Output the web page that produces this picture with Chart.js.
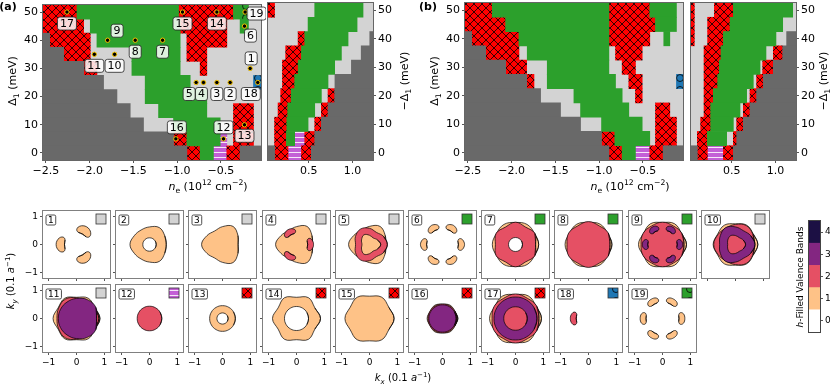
<!DOCTYPE html>
<html>
<head>
<meta charset="utf-8">
<script src="https://cdn.jsdelivr.net/npm/chart.js@4.4.1/dist/chart.umd.min.js"></script>
<style>
  html, body { margin: 0; padding: 0; background: #fff; }
  body { position: relative; width: 830px; height: 385px; overflow: hidden; font-family: 'DejaVu Sans', sans-serif; }
  canvas { position: absolute; }
  .txt { position: absolute; white-space: nowrap; color: #000; line-height: 1; transform: translate(-50%, -50%); }
  .rot { transform: translate(-50%, -50%) rotate(-90deg); }
  sub, sup { font-size: 70%; line-height: 0; }
</style>
</head>
<body>
<script>
// ---------------- Datos ----------------
// filas de Δ1 (meV), de arriba abajo
var deltaRows = [50, 45, 40, 35, 30, 25, 20, 15, 10, 5, 0];
var deltaTicks = [0, 10, 20, 30, 40, 50];
var neTicksLeft = [-2.5, -2.0, -1.5, -1.0, -0.5];
var neTicksRight = [0.5, 1.0];
var kTicks = [-1, 0, 1];
var bandTicks = [0, 1, 2, 3, 4];

// segmentos [n0, n1, fase] por fila; lo que falta es gris claro
// D gris oscuro, G verde, R rojo rayado, P morado rayado, B azul, C verde con círculo
var phaseA = [
  [[-2.534, -2.145, 'R'], [-2.145, -0.984, 'G'], [-0.984, -0.355, 'R'], [-0.355, -0.260, 'G'], [-0.260, -0.184, 'C']],
  [[-2.534, -2.069, 'R'], [-1.993, -0.965, 'G'], [-0.965, -0.431, 'R'], [-0.279, -0.184, 'G']],
  [[-2.534, -2.458, 'D'], [-2.458, -1.993, 'R'], [-1.917, -0.965, 'G'], [-0.888, -0.431, 'R']],
  [[-2.534, -2.298, 'D'], [-2.298, -1.993, 'R'], [-1.517, -0.965, 'G'], [-0.888, -0.660, 'R']],
  [[-2.534, -2.069, 'D'], [-2.069, -1.917, 'R'], [-1.517, -0.965, 'G'], [-0.736, -0.660, 'R']],
  [[-2.534, -1.841, 'D'], [-1.365, -0.850, 'G'], [-0.126, -0.039, 'B']],
  [[-2.534, -1.688, 'D'], [-1.365, -0.660, 'G']],
  [[-2.534, -1.536, 'D'], [-1.212, -0.660, 'G'], [-0.355, -0.126, 'R']],
  [[-2.534, -1.384, 'D'], [-1.041, -0.507, 'G'], [-0.355, -0.126, 'R']],
  [[-2.534, -1.041, 'D'], [-1.041, -0.888, 'R'], [-0.888, -0.507, 'G'], [-0.507, -0.431, 'P'], [-0.355, -0.126, 'R']],
  [[-2.534, -0.888, 'D'], [-0.888, -0.736, 'R'], [-0.736, -0.584, 'G'], [-0.584, -0.431, 'P'], [-0.431, -0.279, 'R'], [-0.279, -0.039, 'D']]
];

var phaseARight = [
  [[0.035, 0.110, 'R'], [0.569, 1.121, 'G']],
  [[0.493, 1.053, 'G']],
  [[0.379, 0.455, 'R'], [0.455, 0.950, 'G'], [1.198, 1.235, 'D']],
  [[0.237, 0.417, 'R'], [0.417, 0.874, 'G'], [1.100, 1.235, 'D']],
  [[0.200, 0.380, 'R'], [0.380, 0.797, 'G'], [0.988, 1.235, 'D']],
  [[0.200, 0.340, 'R'], [0.340, 0.721, 'G'], [0.800, 1.235, 'D']],
  [[0.180, 0.300, 'R'], [0.300, 0.645, 'G'], [0.721, 0.797, 'R'], [0.797, 1.235, 'D']],
  [[0.150, 0.260, 'R'], [0.260, 0.569, 'G'], [0.645, 0.721, 'R'], [0.721, 1.235, 'D']],
  [[0.110, 0.250, 'R'], [0.250, 0.493, 'G'], [0.569, 0.645, 'R'], [0.645, 1.235, 'D']],
  [[0.110, 0.245, 'R'], [0.245, 0.340, 'G'], [0.340, 0.455, 'P'], [0.455, 0.569, 'R'], [0.569, 1.235, 'D']],
  [[0.035, 0.110, 'D'], [0.110, 0.264, 'R'], [0.264, 0.417, 'P'], [0.417, 0.530, 'R'], [0.530, 1.235, 'D']]
];

var phaseB = [
  [[-2.534, -2.222, 'R'], [-2.222, -0.888, 'G'], [-0.888, -0.420, 'R'], [-0.420, -0.115, 'G']],
  [[-2.534, -2.069, 'R'], [-2.069, -0.888, 'G'], [-0.888, -0.355, 'R'], [-0.355, -0.115, 'G']],
  [[-2.534, -2.458, 'D'], [-2.458, -1.917, 'R'], [-1.917, -0.888, 'G'], [-0.888, -0.420, 'R'], [-0.260, -0.191, 'G']],
  [[-2.534, -2.298, 'D'], [-2.298, -1.917, 'R'], [-1.822, -0.888, 'G'], [-0.812, -0.507, 'R']],
  [[-2.534, -2.069, 'D'], [-2.069, -1.829, 'R'], [-1.593, -0.888, 'G'], [-0.736, -0.584, 'R']],
  [[-2.534, -1.829, 'D'], [-1.829, -1.745, 'R'], [-1.593, -0.812, 'G'], [-0.660, -0.507, 'R'], [-0.115, -0.039, 'B']],
  [[-2.534, -1.669, 'D'], [-1.288, -0.736, 'G'], [-0.584, -0.507, 'R']],
  [[-2.534, -1.441, 'D'], [-1.212, -0.660, 'G'], [-0.355, -0.191, 'R']],
  [[-2.534, -1.212, 'D'], [-0.972, -0.507, 'G'], [-0.355, -0.115, 'R']],
  [[-2.534, -0.972, 'D'], [-0.972, -0.820, 'R'], [-0.820, -0.420, 'G'], [-0.355, -0.115, 'R']],
  [[-2.534, -0.888, 'D'], [-0.888, -0.736, 'R'], [-0.736, -0.584, 'G'], [-0.584, -0.420, 'P'], [-0.420, -0.267, 'R'], [-0.267, -0.039, 'D']]
];

var phaseBRight = [
  [[0.035, 0.073, 'R'], [0.302, 0.519, 'R'], [0.519, 1.197, 'G']],
  [[0.035, 0.073, 'R'], [0.225, 0.481, 'R'], [0.481, 1.083, 'G']],
  [[0.035, 0.073, 'R'], [0.225, 0.405, 'R'], [0.405, 1.006, 'G'], [1.128, 1.235, 'D']],
  [[0.184, 0.378, 'R'], [0.378, 0.892, 'G'], [0.976, 1.083, 'R'], [1.083, 1.235, 'D']],
  [[0.184, 0.359, 'R'], [0.359, 0.824, 'G'], [0.854, 0.976, 'R'], [0.976, 1.235, 'D']],
  [[0.184, 0.340, 'R'], [0.340, 0.747, 'G'], [0.785, 0.862, 'R'], [0.862, 1.235, 'D']],
  [[0.184, 0.290, 'R'], [0.290, 0.671, 'G'], [0.709, 0.785, 'R'], [0.785, 1.235, 'D']],
  [[0.184, 0.260, 'R'], [0.260, 0.595, 'G'], [0.633, 0.709, 'R'], [0.709, 1.235, 'D']],
  [[0.145, 0.260, 'R'], [0.260, 0.519, 'G'], [0.557, 0.633, 'R'], [0.633, 1.235, 'D']],
  [[0.107, 0.222, 'R'], [0.222, 0.443, 'G'], [0.519, 0.557, 'R'], [0.557, 1.235, 'D']],
  [[0.035, 0.107, 'D'], [0.107, 0.222, 'R'], [0.222, 0.405, 'P'], [0.405, 0.519, 'R'], [0.519, 1.235, 'D']]
];

// puntos marcados en (a)
var markerIds = ['1', '2', '3', '4', '5', '6', '7', '8', '9', '10', '11', '12', '13', '14', '15', '16', '17', '18', '19'];
var markerNe = [-0.164, -0.393, -0.545, -0.698, -0.782, -0.229, -1.166, -1.479, -1.795, -1.715, -1.947, -0.469, -0.229, -0.545, -0.938, -1.014, -2.260, -0.077, -0.222];
var markerDelta = [30, 25, 25, 25, 25, 45, 40, 40, 40, 35, 35, 5, 10, 50, 50, 5, 50, 25, 50];

// fase de cada panel inferior
var panelPhase = ['L', 'L', 'L', 'L', 'L', 'G', 'G', 'G', 'G', 'L', 'L', 'P', 'R', 'R', 'R', 'R', 'R', 'B', 'C'];

// bolsillos [r, t] (radial, tangencial)
var pocketA = [[0.43, 0], [0.41, 0.16], [0.44, 0.24], [0.52, 0.27], [0.62, 0.23], [0.70, 0.13], [0.73, 0], [0.70, -0.13], [0.62, -0.23], [0.52, -0.27], [0.44, -0.24], [0.41, -0.16]];
var pocketB = [[0.44, 0], [0.42, 0.14], [0.45, 0.21], [0.52, 0.23], [0.59, 0.18], [0.64, 0.09], [0.65, 0], [0.64, -0.09], [0.59, -0.18], [0.52, -0.23], [0.45, -0.21], [0.42, -0.14]];
var pocketC = [[0.40, 0], [0.38, 0.13], [0.41, 0.20], [0.48, 0.22], [0.55, 0.17], [0.60, 0.08], [0.61, 0], [0.60, -0.08], [0.55, -0.17], [0.48, -0.22], [0.41, -0.20], [0.38, -0.13]];
var pocketD = [[0.57, 0], [0.55, 0.12], [0.58, 0.19], [0.65, 0.21], [0.72, 0.17], [0.77, 0.09], [0.79, 0], [0.77, -0.09], [0.72, -0.17], [0.65, -0.21], [0.58, -0.19], [0.55, -0.12]];
var pocketE = [[0.53, 0], [0.51, 0.10], [0.54, 0.16], [0.60, 0.18], [0.66, 0.15], [0.71, 0.08], [0.72, 0], [0.71, -0.08], [0.66, -0.15], [0.60, -0.18], [0.54, -0.16], [0.51, -0.10]];
var pocketF = [[0.59, 0], [0.58, 0.11], [0.61, 0.19], [0.68, 0.21], [0.75, 0.17], [0.79, 0.09], [0.80, 0], [0.79, -0.09], [0.75, -0.17], [0.68, -0.21], [0.61, -0.19], [0.58, -0.11]];

// contornos: n = bandas llenas, r = radios cada 30° (o un radio), de abajo arriba
var fs1 = [{n: 1, pocket: pocketA, at: [60, 180, 300]}];
var fs2 = [{n: 1, r: [0.60, 0.63, 0.70, 0.63, 0.60, 0.63, 0.70, 0.63, 0.60, 0.63, 0.70, 0.63]}, {n: 0, r: 0.24}];
var fs3 = [{n: 1, r: [0.56, 0.64, 0.75, 0.64, 0.56, 0.64, 0.75, 0.64, 0.56, 0.64, 0.75, 0.64]}];
var fs4 = [{n: 1, r: [0.57, 0.64, 0.75, 0.64, 0.57, 0.64, 0.75, 0.64, 0.57, 0.64, 0.75, 0.64]}, {n: 2, pocket: pocketC, at: [0, 120, 240]}];
var fs5 = [
  {n: 1, r: [0.58, 0.65, 0.75, 0.65, 0.58, 0.65, 0.75, 0.65, 0.58, 0.65, 0.75, 0.65]},
  {n: 2, r: [0.64, 0.58, 0.50, 0.58, 0.64, 0.58, 0.50, 0.58, 0.64, 0.58, 0.50, 0.58]},
  {n: 1, r: [0.40, 0.33, 0.27, 0.33, 0.40, 0.33, 0.27, 0.33, 0.40, 0.33, 0.27, 0.33]}
];
var fs6 = [{n: 1, pocket: pocketD, at: [0, 60, 120, 180, 240, 300]}];
var fs7 = [
  {n: 1, r: [0.83, 0.79, 0.83, 0.79, 0.83, 0.79, 0.83, 0.79, 0.83, 0.79, 0.83, 0.79]},
  {n: 2, r: [0.72, 0.80, 0.72, 0.80, 0.72, 0.80, 0.72, 0.80, 0.72, 0.80, 0.72, 0.80]},
  {n: 0, r: 0.25}
];
var fs8 = [
  {n: 1, r: [0.84, 0.79, 0.84, 0.79, 0.84, 0.79, 0.84, 0.79, 0.84, 0.79, 0.84, 0.79]},
  {n: 2, r: [0.77, 0.82, 0.77, 0.82, 0.77, 0.82, 0.77, 0.82, 0.77, 0.82, 0.77, 0.82]}
];
var fs9 = [
  {n: 1, r: [0.86, 0.79, 0.86, 0.79, 0.86, 0.79, 0.86, 0.79, 0.86, 0.79, 0.86, 0.79]},
  {n: 2, r: [0.77, 0.80, 0.77, 0.80, 0.77, 0.80, 0.77, 0.80, 0.77, 0.80, 0.77, 0.80]},
  {n: 3, pocket: pocketE, at: [0, 60, 120, 180, 240, 300]}
];
var fs10 = [
  {n: 1, r: [0.80, 0.74, 0.80, 0.74, 0.80, 0.74, 0.80, 0.74, 0.80, 0.74, 0.80, 0.74]},
  {n: 2, r: [0.68, 0.72, 0.78, 0.72, 0.68, 0.72, 0.78, 0.72, 0.68, 0.72, 0.78, 0.72]},
  {n: 3, r: [0.70, 0.63, 0.57, 0.63, 0.70, 0.63, 0.57, 0.63, 0.70, 0.63, 0.57, 0.63]},
  {n: 2, r: [0.36, 0.32, 0.28, 0.32, 0.36, 0.32, 0.28, 0.32, 0.36, 0.32, 0.28, 0.32]}
];
var fs11 = [
  {n: 1, r: [0.84, 0.76, 0.84, 0.76, 0.84, 0.76, 0.84, 0.76, 0.84, 0.76, 0.84, 0.76]},
  {n: 2, r: [0.80, 0.74, 0.70, 0.74, 0.80, 0.74, 0.70, 0.74, 0.80, 0.74, 0.70, 0.74]},
  {n: 3, r: [0.72, 0.80, 0.78, 0.72, 0.68, 0.66, 0.65, 0.66, 0.68, 0.72, 0.78, 0.80]}
];
var fs12 = [{n: 2, r: 0.44}];
var fs13 = [{n: 1, r: 0.46}, {n: 0, r: 0.20}];
var fs14 = [{n: 1, r: [0.86, 0.76, 0.86, 0.76, 0.86, 0.76, 0.86, 0.76, 0.86, 0.76, 0.86, 0.76]}, {n: 0, r: 0.43}];
var fs15 = [{n: 1, r: [0.88, 0.80, 0.88, 0.80, 0.88, 0.80, 0.88, 0.80, 0.88, 0.80, 0.88, 0.80]}];
var fs16 = [
  {n: 1, r: [0.55, 0.51, 0.55, 0.51, 0.55, 0.51, 0.55, 0.51, 0.55, 0.51, 0.55, 0.51]},
  {n: 2, r: 0.52},
  {n: 3, r: 0.49}
];
var fs17 = [
  {n: 1, r: [0.93, 0.86, 0.93, 0.86, 0.93, 0.86, 0.93, 0.86, 0.93, 0.86, 0.93, 0.86]},
  {n: 2, r: [0.84, 0.88, 0.84, 0.88, 0.84, 0.88, 0.84, 0.88, 0.84, 0.88, 0.84, 0.88]},
  {n: 3, r: 0.77},
  {n: 2, r: 0.42}
];
var fs18 = [{n: 2, pocket: pocketB, at: [180]}];
var fs19 = [{n: 1, pocket: pocketF, at: [0, 60, 120, 180, 240, 300]}];
var fermiPanels = [fs1, fs2, fs3, fs4, fs5, fs6, fs7, fs8, fs9, fs10, fs11, fs12, fs13, fs14, fs15, fs16, fs17, fs18, fs19];

// ---------------- Estilos ----------------
var bandColors = ['#ffffff', '#fec287', '#e55064', '#832681', '#1c1044'];
// desplazamiento de cada etiqueta respecto a su punto (px)
var labelOffsets = [[1, -10], [0, 11.5], [0, 11.5], [-2, 11.5], [-7, 11.5], [6, 9.5], [0, 11.5], [0, 11.5], [9.5, -9.5], [0, 11.5],
  [0, 11.5], [0, -11.5], [0, 11], [0, 11.5], [0, 11.5], [1, -11.5], [0, 11.5], [-7, 11.5], [11.5, 1.5]];

Chart.defaults.font.family = "'DejaVu Sans', sans-serif";
Chart.defaults.font.size = 10;
Chart.defaults.color = '#000';

function makePattern(w, h, base, draw) {
  var c = document.createElement('canvas');
  c.width = w; c.height = h;
  var g = c.getContext('2d');
  g.fillStyle = base;
  g.fillRect(0, 0, w, h);
  draw(g, w, h);
  return g.createPattern(c, 'repeat');
}

var hatchRed = makePattern(8, 8, '#ff0000', function(g, w, h) {
  g.strokeStyle = '#000';
  g.lineWidth = 0.8;
  g.beginPath();
  [-w, 0, w].forEach(function(dx) {
    g.moveTo(dx - 1, -1); g.lineTo(dx + w + 1, h + 1);
    g.moveTo(dx - 1, h + 1); g.lineTo(dx + w + 1, -1);
  });
  g.stroke();
});
var stripePurple = makePattern(5, 5, '#c35fd6', function(g, w) {
  g.fillStyle = 'rgba(255,255,255,0.85)';
  g.fillRect(0, 2, w, 1);
});
function circlePattern(base) {
  return makePattern(12, 12, base, function(g) {
    g.strokeStyle = '#000';
    g.lineWidth = 0.8;
    g.beginPath();
    g.arc(6, 6, 3.5, 0, Math.PI * 2);
    g.stroke();
  });
}
var phaseFill = {
  D: '#696969', L: '#d3d3d3', G: '#2ca02c', R: hatchRed, P: stripePurple,
  B: circlePattern('#1f77b4'), C: circlePattern('#2ca02c')
};

function fmtTick(v, d) {
  var s = Math.abs(v).toFixed(d);
  return (v < -1e-9 ? '\u2212' : '') + s;
}

function roundBox(c, x, y, w, h, r) {
  c.beginPath();
  c.moveTo(x + r, y);
  c.lineTo(x + w - r, y); c.arcTo(x + w, y, x + w, y + r, r);
  c.lineTo(x + w, y + h - r); c.arcTo(x + w, y + h, x + w - r, y + h, r);
  c.lineTo(x + r, y + h); c.arcTo(x, y + h, x, y + h - r, r);
  c.lineTo(x, y + r); c.arcTo(x, y, x + r, y, r);
  c.closePath();
}

// ---------------- Plugins ----------------
var bgPlugin = {
  id: 'bg',
  beforeDatasetsDraw: function(chart, args, opts) {
    if (!opts.color) return;
    var a = chart.chartArea, c = chart.ctx;
    c.save();
    c.fillStyle = opts.color;
    c.fillRect(a.left, a.top, a.right - a.left, a.bottom - a.top);
    c.restore();
  }
};

var framePlugin = {
  id: 'frame',
  afterDatasetsDraw: function(chart, args, opts) {
    var a = chart.chartArea, c = chart.ctx;
    c.save();
    c.strokeStyle = opts.color || '#666';
    c.lineWidth = 1;
    c.strokeRect(a.left - 0.5, a.top - 0.5, a.right - a.left + 1, a.bottom - a.top + 1);
    c.restore();
  }
};

var tagPlugin = {
  id: 'tags',
  afterDatasetsDraw: function(chart, args, opts) {
    if (!opts.ids) return;
    var c = chart.ctx, sx = chart.scales.x, sy = chart.scales.y;
    c.save();
    c.font = '11px "DejaVu Sans"';
    c.textAlign = 'center';
    c.textBaseline = 'middle';
    opts.ids.forEach(function(id, i) {
      var px = sx.getPixelForValue(opts.ne[i]) + opts.off[i][0];
      var py = sy.getPixelForValue(opts.delta[i]) + opts.off[i][1];
      var w = c.measureText(id).width + 5, h = 13;
      roundBox(c, px - w / 2, py - h / 2, w, h, 2.5);
      c.fillStyle = 'rgba(255,255,255,0.85)';
      c.fill();
      c.strokeStyle = '#222';
      c.lineWidth = 0.8;
      c.stroke();
      c.fillStyle = '#000';
      c.fillText(id, px, py + 0.5);
    });
    c.restore();
  }
};

var badgePlugin = {
  id: 'badge',
  afterDatasetsDraw: function(chart, args, opts) {
    if (!opts.num) return;
    var a = chart.chartArea, c = chart.ctx;
    c.save();
    c.font = '9px "DejaVu Sans"';
    c.textAlign = 'center';
    c.textBaseline = 'middle';
    var w = c.measureText(opts.num).width + 4, h = 10;
    var bx = a.left + 3, by = a.top + 4;
    roundBox(c, bx, by, w, h, 1.5);
    c.fillStyle = '#fff';
    c.fill();
    c.strokeStyle = '#222';
    c.lineWidth = 0.8;
    c.stroke();
    c.fillStyle = '#000';
    c.fillText(opts.num, bx + w / 2, by + h / 2 + 0.5);
    // icono de fase
    c.fillStyle = phaseFill[opts.phase];
    c.fillRect(a.right - 14, a.top + 3, 10, 10);
    c.strokeStyle = '#333';
    c.strokeRect(a.right - 14, a.top + 3, 10, 10);
    c.restore();
  }
};

// ---------------- Utilidades ----------------
function addCanvas(area, m) {
  var cv = document.createElement('canvas');
  cv.width = Math.round(area.w + m.l + m.r);
  cv.height = Math.round(area.h + m.t + m.b);
  cv.style.left = (area.x - m.l) + 'px';
  cv.style.top = (area.y - m.t) + 'px';
  cv.style.width = cv.width + 'px';
  cv.style.height = cv.height + 'px';
  document.body.appendChild(cv);
  return cv;
}

function addText(html, x, y, size, rot) {
  var d = document.createElement('div');
  d.className = 'txt' + (rot ? ' rot' : '');
  d.style.left = x + 'px';
  d.style.top = y + 'px';
  d.style.fontSize = size + 'px';
  d.innerHTML = html;
  document.body.appendChild(d);
}

function axis(o) {
  var horiz = o.pos === 'bottom';
  return {
    type: 'linear', position: o.pos, min: o.min, max: o.max, bounds: 'data', offset: false,
    ticks: {
      display: o.labels !== false, autoSkip: false, maxRotation: 0, minRotation: 0, padding: 2,
      color: '#000', font: {size: o.font}, callback: o.fmt
    },
    grid: {display: true, offset: false, drawOnChartArea: false, drawTicks: true, tickLength: 3, color: '#555', lineWidth: 1},
    border: {display: false},
    afterBuildTicks: function(s) {
      s.ticks = o.ticks.map(function(v) { return {value: v}; });
    },
    afterFit: function(s) {
      if (horiz) s.height = o.size; else s.width = o.size;
      s.paddingLeft = s.paddingRight = s.paddingTop = s.paddingBottom = 0;
    }
  };
}

function baseOptions(padding) {
  return {
    responsive: false, animation: false, devicePixelRatio: 1, events: [],
    layout: {padding: padding}
  };
}

// ---------------- Diagramas de fase ----------------
function phaseChart(area, rows, xmin, xmax, xticks, side, withMarkers) {
  var m = side === 'left' ? {l: 43, r: 5, t: 3, b: 22} : {l: 3, r: 32, t: 3, b: 22};
  var cv = addCanvas(area, m);
  var datasets = [];
  ['D', 'G', 'R', 'P', 'B', 'C'].forEach(function(code) {
    var pts = [];
    rows.forEach(function(segs, i) {
      segs.forEach(function(s) {
        if (s[2] === code) pts.push({x: [s[0], s[1]], y: deltaRows[i]});
      });
    });
    if (pts.length) {
      datasets.push({type: 'bar', data: pts, backgroundColor: phaseFill[code], borderWidth: 0,
        barPercentage: 1, categoryPercentage: 1, grouped: false});
    }
  });
  if (withMarkers) {
    datasets.unshift({
      type: 'scatter', indexAxis: 'x', showLine: false,
      data: markerNe.map(function(n, i) { return {x: n, y: markerDelta[i]}; }),
      pointRadius: 2.2, pointBackgroundColor: '#000', pointBorderColor: '#f2c200', pointBorderWidth: 1
    });
  }
  var opts = baseOptions(side === 'left' ? {left: 0, right: m.r, top: m.t, bottom: 0} : {left: m.l, right: 0, top: m.t, bottom: 0});
  opts.indexAxis = 'y';
  opts.scales = {
    x: axis({min: xmin, max: xmax, ticks: xticks, fmt: function(v) { return fmtTick(v, 1); }, pos: 'bottom', size: m.b, font: 11}),
    y: axis({min: -2.5, max: 52.5, ticks: deltaTicks, fmt: function(v) { return fmtTick(v, 0); }, pos: side, size: side === 'left' ? m.l : m.r, font: 11})
  };
  opts.plugins = {
    legend: {display: false}, tooltip: {enabled: false},
    bg: {color: '#d3d3d3'}, frame: {color: '#666'},
    tags: withMarkers ? {ids: markerIds, ne: markerNe, delta: markerDelta, off: labelOffsets} : {}
  };
  new Chart(cv, {type: 'bar', data: {datasets: datasets}, options: opts, plugins: [bgPlugin, framePlugin, tagPlugin]});
}

// ---------------- Superficies de Fermi ----------------
function shapeLoops(s) {
  var loops = [];
  if (s.pocket) {
    s.at.forEach(function(deg) {
      var a = deg * Math.PI / 180, ca = Math.cos(a), sa = Math.sin(a);
      loops.push(s.pocket.map(function(p) { return {x: p[0] * ca - p[1] * sa, y: p[0] * sa + p[1] * ca}; }));
    });
  } else {
    var radii = Array.isArray(s.r) ? s.r : new Array(12).fill(s.r);
    loops.push(radii.map(function(r, k) {
      var a = k * Math.PI * 2 / radii.length;
      return {x: r * Math.cos(a), y: r * Math.sin(a)};
    }));
  }
  // cerrar el contorno repitiendo vecinos para que la curva sea suave
  return loops.map(function(pts) {
    var n = pts.length;
    return [pts[n - 1]].concat(pts, [pts[0], pts[1]]);
  });
}

function fermiChart(i) {
  var row = i < 10 ? 0 : 1, col = row ? i - 10 : i;
  var area = {x: Math.round(43 + 73.2 * col), y: row ? 285 : 211, w: 67, h: 67};
  var m = {l: col === 0 ? 24 : 5, r: 2, t: 2, b: row ? 16 : 5};
  var cv = addCanvas(area, m);
  var list = [];
  fermiPanels[i].forEach(function(s) {
    shapeLoops(s).forEach(function(loop) { list.push({loop: loop, n: s.n}); });
  });
  var datasets = list.map(function(item, k) {
    return {
      data: item.loop, showLine: true, fill: 'shape', tension: 0.4,
      backgroundColor: bandColors[item.n], borderColor: '#000', borderWidth: 0.7,
      pointRadius: 0, order: list.length - k
    };
  });
  var opts = baseOptions({left: 0, right: m.r, top: m.t, bottom: 0});
  var fmt = function(v) { return fmtTick(v, 0); };
  opts.scales = {
    x: axis({min: -1.2, max: 1.2, ticks: kTicks, fmt: fmt, pos: 'bottom', size: m.b, font: 9, labels: row === 1}),
    y: axis({min: -1.2, max: 1.2, ticks: kTicks, fmt: fmt, pos: 'left', size: m.l, font: 9, labels: col === 0})
  };
  opts.plugins = {
    legend: {display: false}, tooltip: {enabled: false},
    frame: {color: '#808080'},
    badge: {num: String(i + 1), phase: panelPhase[i]}
  };
  new Chart(cv, {type: 'scatter', data: {datasets: datasets}, options: opts, plugins: [framePlugin, badgePlugin]});
}

// ---------------- Barra de color ----------------
function colorbarChart() {
  var area = {x: 809, y: 221, w: 11, h: 111};
  var m = {l: 2, r: 16, t: 3, b: 3};
  var cv = addCanvas(area, m);
  var datasets = bandTicks.map(function(b) {
    return {data: [[b, b + 1]], backgroundColor: bandColors[b], borderWidth: 0,
      barPercentage: 1, categoryPercentage: 1, grouped: false};
  });
  var opts = baseOptions({left: m.l, right: 0, top: m.t, bottom: m.b});
  opts.scales = {
    x: {display: false},
    y: axis({min: 0, max: 5, ticks: bandTicks.map(function(b) { return b + 0.5; }),
      fmt: function(v) { return String(Math.round(v - 0.5)); }, pos: 'right', size: m.r, font: 9})
  };
  opts.plugins = {legend: {display: false}, tooltip: {enabled: false}, frame: {color: '#444'}};
  new Chart(cv, {type: 'bar', data: {labels: [''], datasets: datasets}, options: opts, plugins: [framePlugin]});
}

// ---------------- Montaje ----------------
phaseChart({x: 43, y: 3, w: 218, h: 157}, phaseA, -2.534, -0.04, neTicksLeft, 'left', true);
phaseChart({x: 268, y: 3, w: 105, h: 157}, phaseARight, 0.035, 1.235, neTicksRight, 'right', false);
phaseChart({x: 465, y: 3, w: 218, h: 157}, phaseB, -2.534, -0.04, neTicksLeft, 'left', false);
phaseChart({x: 691, y: 3, w: 105, h: 157}, phaseBRight, 0.035, 1.235, neTicksRight, 'right', false);

for (var i = 0; i < fermiPanels.length; i++) fermiChart(i);
colorbarChart();

addText('<b>(a)</b>', 8, 6, 11);
addText('<b>(b)</b>', 428, 6, 11);
addText('\u0394<sub>1</sub> (meV)', 12, 81, 11, true);
addText('\u0394<sub>1</sub> (meV)', 434, 81, 11, true);
addText('\u2212\u0394<sub>1</sub> (meV)', 404, 81, 11, true);
addText('\u2212\u0394<sub>1</sub> (meV)', 823, 81, 11, true);
addText('<i>n</i><sub>e</sub> (10<sup>12</sup> cm<sup>\u22122</sup>)', 208, 186, 11);
addText('<i>n</i><sub>e</sub> (10<sup>12</sup> cm<sup>\u22122</sup>)', 630, 186, 11);
addText('<i>k</i><sub><i>y</i></sub> (0.1 <i>a</i><sup>\u22121</sup>)', 11, 281, 10, true);
addText('<i>k</i><sub><i>x</i></sub> (0.1 <i>a</i><sup>\u22121</sup>)', 403, 378, 10);
addText('<i>h</i>-Filled Valence Bands', 800, 277, 9, true);
</script>
</body>
</html>
